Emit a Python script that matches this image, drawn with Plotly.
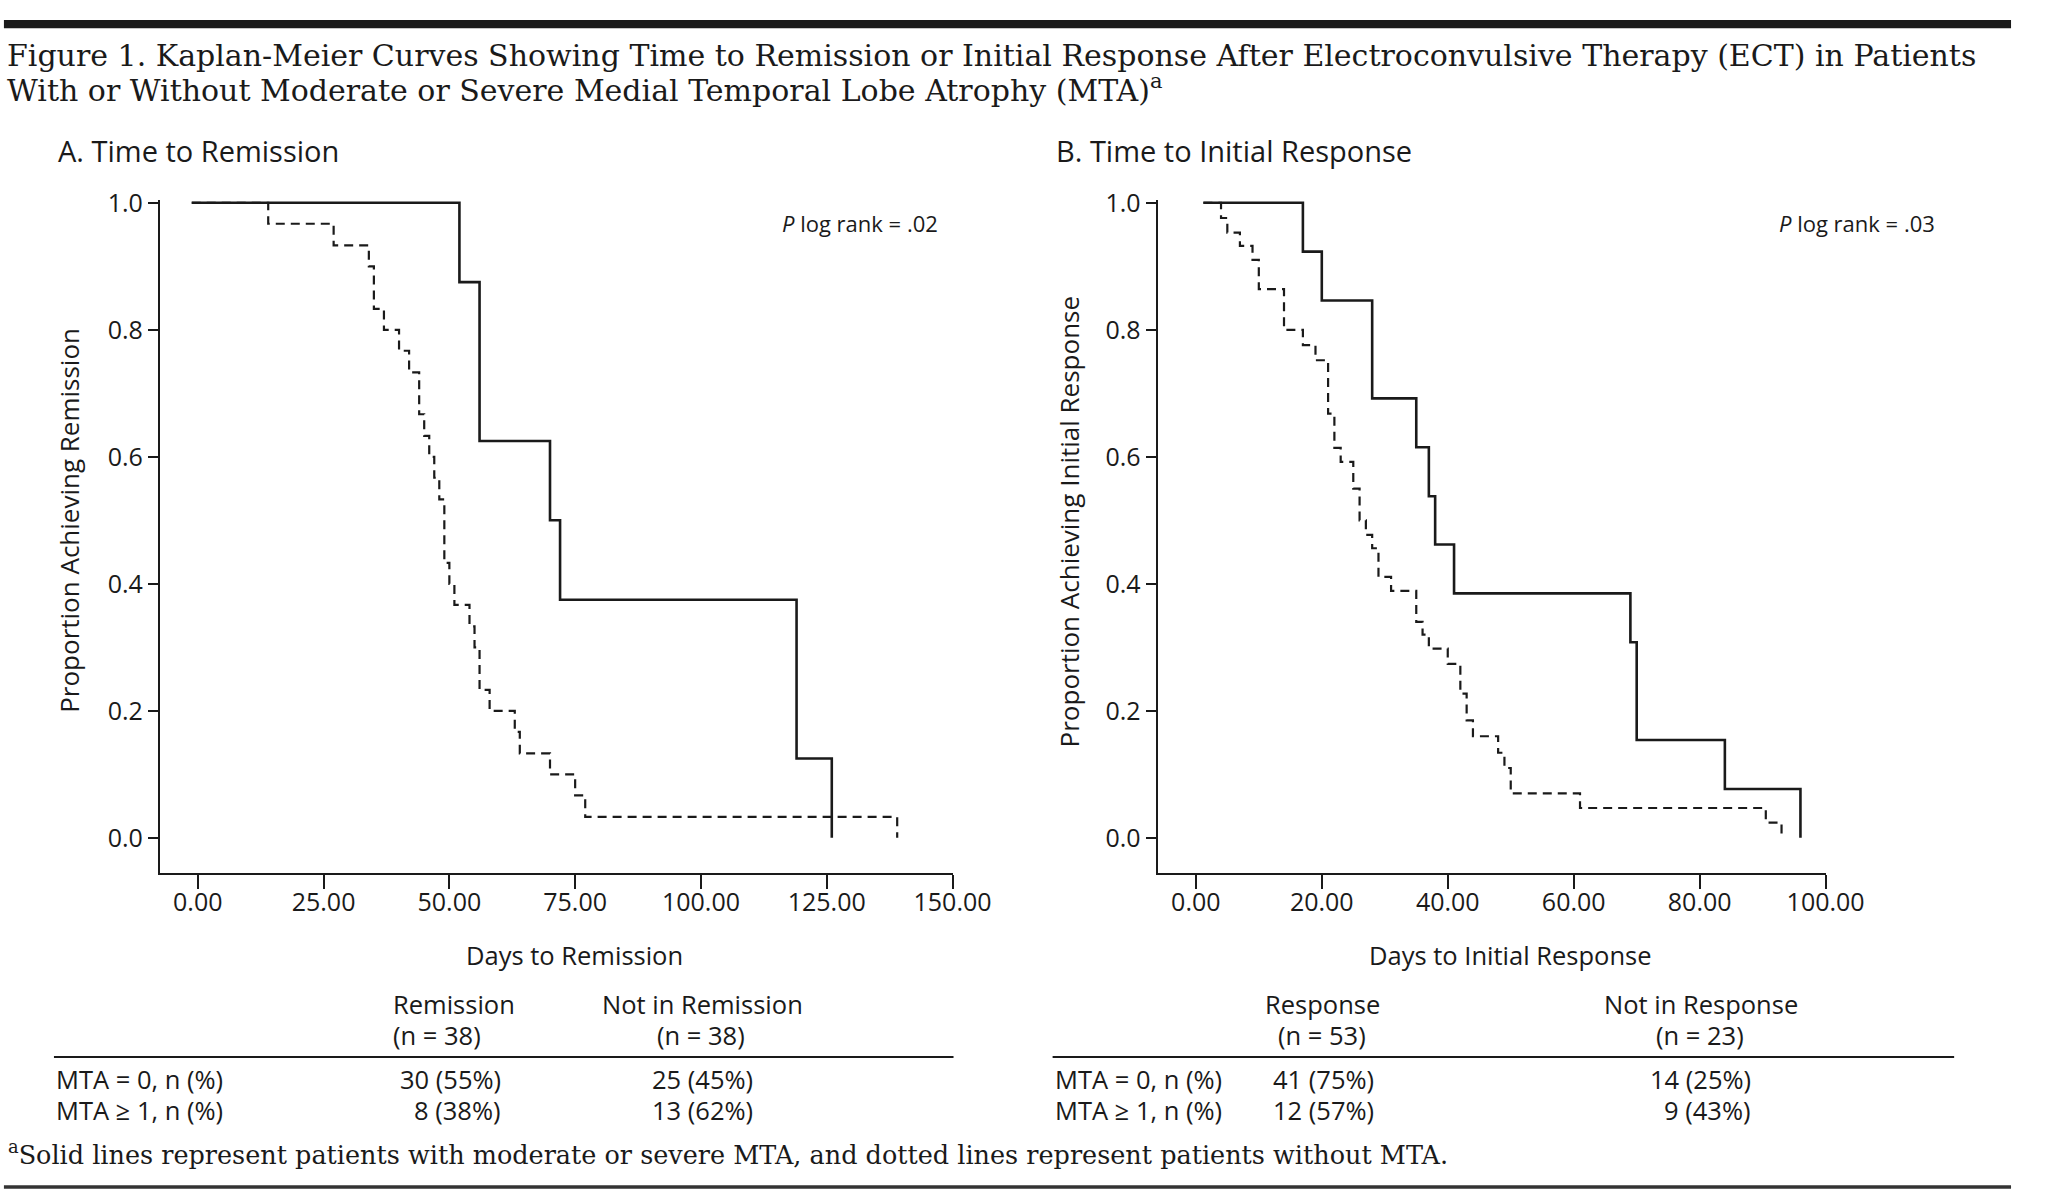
import plotly.graph_objects as go

W, H = 2052, 1196

# ---------------- data ----------------
# Panel A: time to remission (days, proportion not yet remitted)
a_solid_t = [-1.2, 52, 56, 70, 72, 119, 126]
a_solid_s = [1.0, 0.875, 0.625, 0.5, 0.375, 0.125, 0.0]
a_dash_t = [-1.2, 14, 27, 34, 35, 37, 40, 42, 44, 45, 46, 47, 48, 49, 50, 51,
            54, 55, 56, 58, 63, 64, 70, 75, 77, 139]
a_dash_s = [1.0, 0.967, 0.933, 0.900, 0.833, 0.800, 0.767, 0.733, 0.667, 0.633,
            0.600, 0.567, 0.533, 0.433, 0.400, 0.367, 0.333, 0.300, 0.233, 0.200,
            0.167, 0.133, 0.100, 0.067, 0.033, 0.0]

# Panel B: time to initial response
b_solid_t = [1.2, 17, 20, 28, 35, 37, 38, 41, 69, 70, 84, 96]
b_solid_s = [1.0, 0.923, 0.846, 0.692, 0.615, 0.538, 0.462, 0.385, 0.308, 0.154, 0.077, 0.0]
b_dash_t = [1.2, 4, 5, 7, 9, 10, 14, 17, 19, 21, 22, 23, 25, 26, 27, 28, 29, 31,
            35, 36, 37, 40, 42, 43, 44, 48, 49, 50, 61, 90.5, 93]
b_dash_s = [1.0, 0.976, 0.953, 0.932, 0.910, 0.864, 0.800, 0.776, 0.752, 0.668,
            0.614, 0.592, 0.550, 0.500, 0.477, 0.456, 0.411, 0.389, 0.340, 0.320,
            0.298, 0.274, 0.227, 0.185, 0.160, 0.134, 0.110, 0.070, 0.047, 0.024, 0.0]

a_xticks = [0, 25, 50, 75, 100, 125, 150]
b_xticks = [0, 20, 40, 60, 80, 100]
yticks = [0.0, 0.2, 0.4, 0.6, 0.8, 1.0]

a_cols = ["Remission", "Not in Remission"]
a_ns = ["(n = 38)", "(n = 38)"]
b_cols = ["Response", "Not in Response"]
b_ns = ["(n = 53)", "(n = 23)"]
row_labels = ["MTA = 0, n (%)", "MTA \u2265 1, n (%)"]
a_vals = [["30 (55%)", "25 (45%)"], ["8 (38%)", "13 (62%)"]]
b_vals = [["41 (75%)", "14 (25%)"], ["12 (57%)", "9 (43%)"]]

title1 = "Figure 1. Kaplan-Meier Curves Showing Time to Remission or Initial Response After Electroconvulsive Therapy (ECT) in Patients"
title2 = "With or Without Moderate or Severe Medial Temporal Lobe Atrophy (MTA)<sup>a</sup>"
footnote = "<sup>a</sup>Solid lines represent patients with moderate or severe MTA, and dotted lines represent patients without MTA."

# ---------------- layout helpers (pixels -> paper) ----------------
def px(x):
    return x / W

def py(y):
    return 1 - y / H

INK = "#1a1a1a"
SANS = "Open Sans"
SERIF = "DejaVu Serif"

y_top_px, y0_px, y_bot_px = 189.3, 833.0, 869.0
ppu = (y0_px - y_top_px)  # px per unit proportion
y_min = -(y_bot_px - y0_px) / ppu
y_max = 1.004
y_dom = [py(y_bot_px), py(y0_px - y_max * ppu)]

fig = go.Figure()

def add_curves(t_s, s_s, t_d, s_d, xa, ya):
    fig.add_trace(go.Scatter(x=t_d, y=s_d, mode="lines", line_shape="hv",
                             line=dict(color=INK, width=2.2, dash="9px,6px"),
                             xaxis=xa, yaxis=ya, showlegend=False, hoverinfo="skip"))
    fig.add_trace(go.Scatter(x=t_s, y=s_s, mode="lines", line_shape="hv",
                             line=dict(color=INK, width=2.6),
                             xaxis=xa, yaxis=ya, showlegend=False, hoverinfo="skip"))

add_curves(a_solid_t, a_solid_s, a_dash_t, a_dash_s, "x", "y")
add_curves(b_solid_t, b_solid_s, b_dash_t, b_dash_s, "x2", "y2")

common_x = dict(showline=True, linewidth=2, linecolor=INK, ticks="outside", ticklen=14,
                tickwidth=2, tickcolor=INK, tickformat=".2f", showgrid=False, zeroline=False,
                ticklabelstandoff=-8,
                tickfont=dict(family=SANS, size=25, color=INK))
common_y = dict(showline=True, linewidth=2, linecolor=INK, ticks="outside", ticklen=10,
                tickwidth=2, tickcolor=INK, tickformat=".1f", showgrid=False, zeroline=False,
                tickvals=yticks, range=[y_min, y_max], domain=y_dom,
                tickfont=dict(family=SANS, size=25, color=INK))

# Panel A x: 0 at 201.6px, 150 at 971px, axis starts at 163px
ax0, ax150, aleft = 201.6, 971.0, 163.0
a_left = -(ax0 - aleft) / ((ax150 - ax0) / 150)
# Panel B x: 0 at 1219px, 100 at 1861px, axis starts at 1180px
bx0, bx100, bleft = 1219.0, 1861.0, 1180.0
b_left = -(bx0 - bleft) / ((bx100 - bx0) / 100)

fig.update_layout(
    xaxis=dict(common_x, domain=[px(aleft), px(ax150)], range=[a_left, 150],
               tickvals=a_xticks, anchor="y"),
    yaxis=dict(common_y, anchor="x"),
    xaxis2=dict(common_x, domain=[px(bleft), px(bx100)], range=[b_left, 100],
                tickvals=b_xticks, anchor="y2"),
    yaxis2=dict(common_y, anchor="x2"),
)

ann = []

def text(x, y, s, size, family=SANS, xanchor="left", textangle=0):
    ann.append(dict(x=px(x), y=py(y), xref="paper", yref="paper", text=s, showarrow=False,
                    xanchor=xanchor, yanchor="middle", textangle=textangle,
                    font=dict(family=family, size=size, color=INK)))

# titles
text(5, 40, title1, 30, SERIF)
text(5, 73, title2, 30, SERIF)
text(57, 136, "A. Time to Remission", 29)
text(1074, 136, "B. Time to Initial Response", 29)
text(958, 210, "<i>P</i> log rank = .02", 22, xanchor="right")
text(1975, 210, "<i>P</i> log rank = .03", 22, xanchor="right")

# axis titles
text(71, 511, "Proportion Achieving Remission", 26, xanchor="center", textangle=-90)
text(1090, 512, "Proportion Achieving Initial Response", 26, xanchor="center", textangle=-90)
text(586, 952, "Days to Remission", 25.5, xanchor="center")
text(1540, 952, "Days to Initial Response", 25.5, xanchor="center")

# tables
hdr_y, n_y, r1_y, r2_y = 1001, 1033, 1077, 1109
text(399, hdr_y, a_cols[0], 25.5)
text(399, n_y, a_ns[0], 25.5)
text(716, hdr_y, a_cols[1], 25.5, xanchor="center")
text(715, n_y, a_ns[1], 25.5, xanchor="center")
text(1348, hdr_y, b_cols[0], 25.5, xanchor="center")
text(1348, n_y, b_ns[0], 25.5, xanchor="center")
text(1734, hdr_y, b_cols[1], 25.5, xanchor="center")
text(1733, n_y, b_ns[1], 25.5, xanchor="center")
for i, ry in enumerate([r1_y, r2_y]):
    text(55, ry, row_labels[i], 25.5)
    text(513, ry, a_vals[i][0], 25.5, xanchor="right")
    text(770, ry, a_vals[i][1], 25.5, xanchor="right")
    text(1073, ry, row_labels[i], 25.5)
    text(1403, ry, b_vals[i][0], 25.5, xanchor="right")
    text(1787, ry, b_vals[i][1], 25.5, xanchor="right")

text(6, 1152, footnote, 25.5, SERIF)

shapes = [
    dict(type="rect", xref="paper", yref="paper", x0=px(4), x1=px(2050), y0=py(4), y1=py(12.5),
         fillcolor=INK, line=dict(width=0)),
    dict(type="line", xref="paper", yref="paper", x0=px(55), x1=px(972), y0=py(1055), y1=py(1055),
         line=dict(color=INK, width=2)),
    dict(type="line", xref="paper", yref="paper", x0=px(1073), x1=px(1992), y0=py(1055), y1=py(1055),
         line=dict(color=INK, width=2)),
    dict(type="line", xref="paper", yref="paper", x0=px(4), x1=px(2050), y0=py(1187), y1=py(1187),
         line=dict(color="#333333", width=3.5)),
]

fig.update_layout(width=W, height=H, autosize=False, margin=dict(l=0, r=0, t=0, b=0),
                  paper_bgcolor="white", plot_bgcolor="white", annotations=ann, shapes=shapes,
                  font=dict(family=SANS, color=INK))

post = ("document.documentElement.style.margin='0';document.body.style.margin='0';"
        "document.documentElement.style.overflow='hidden';document.body.style.overflow='hidden';"
        "var d=document.querySelector('.plotly-graph-div');"
        "d.style.position='absolute';d.style.left='0px';d.style.top='0px';")

fig.write_html("out.html", config={"displayModeBar": False}, post_script=post)
